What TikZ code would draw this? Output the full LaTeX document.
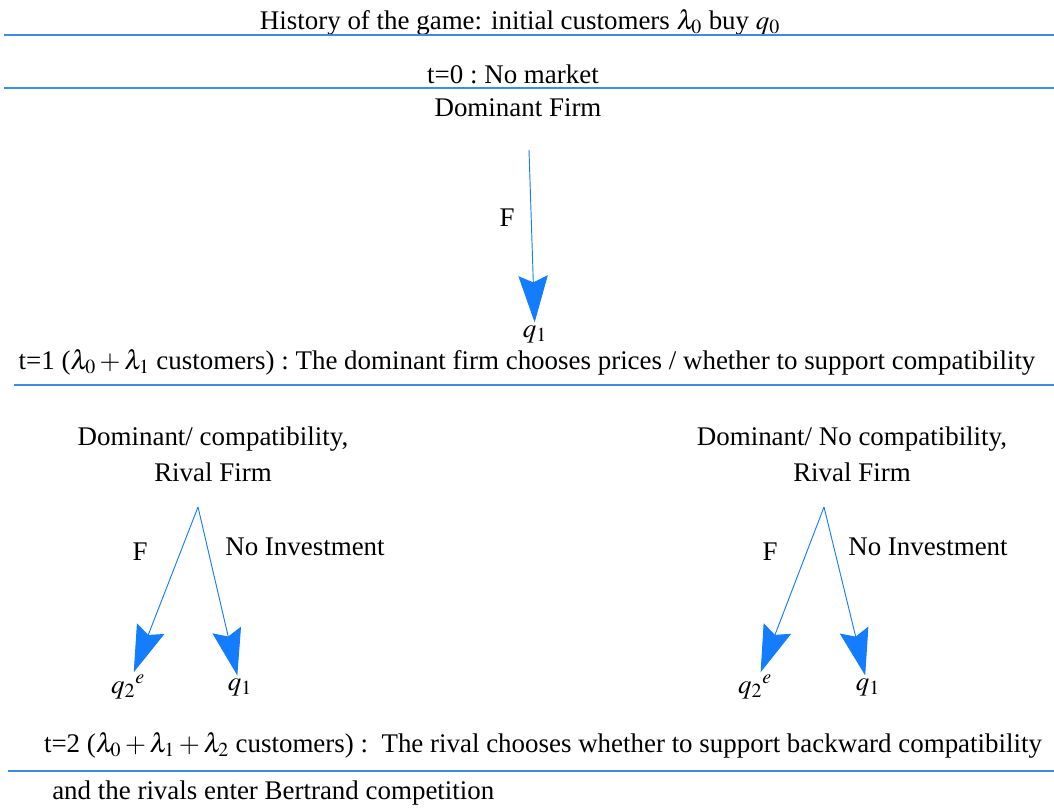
\documentclass[tikz,border=0pt]{standalone}
\usepackage{mathptmx}
\usepackage{fontspec}
\setmainfont{Liberation Serif}
\usetikzlibrary{arrows.meta}
\definecolor{ruleblue}{RGB}{60,140,230}
\definecolor{arrowblue}{RGB}{20,125,255}

\begin{document}
\begin{tikzpicture}[x=0.75pt, y=-0.75pt,
    every node/.style={
        font=\fontsize{20.2}{27}\selectfont,
        inner sep=0pt},
    rule/.style={draw=ruleblue, line width=1pt},
    move/.style={draw=arrowblue, line width=0.7pt, shorten >=2pt,
        -{Stealth[length=35pt, width=22pt, inset=5pt]}}]

    \useasboundingbox (0,0) rectangle (1054,810);

    % history and t=0
    \node (hist) at (520,22) {History of the game: initial customers $\lambda_0$ buy $q_0$};
    \draw[rule] (4,35) -- (1054,35);
    \node (t0) at (513,74) {t=0 :\ No market};
    \draw[rule] (4,88) -- (1054,88);

    % t=1: dominant firm
    \node (dom) at (518,108) {Dominant Firm};
    \coordinate (domtop) at (529,150);
    \node (Fdom) at (507,218) {F};
    \node (q1dom) at (535,334) {$q_1$};
    \draw[move] (domtop) -- (q1dom);

    \node (t1) at (527,362) {t=1 ($\lambda_0+\lambda_1$ customers) :\ The dominant firm chooses prices /\ whether to support compatibility};
    \draw[rule] (14,385) -- (1054,385);

    % t=2: rival, compatibility
    \node[align=center] (rivA) at (213,454) {Dominant/ compatibility,\\Rival Firm};
    \coordinate (rootA) at (198,507);
    \node (FA) at (140,552) {F};
    \node (noA) at (305,547) {No Investment};
    \node (qeA) at (128,687) {${q_2}^e$};
    \node (q1A) at (240,687) {$q_1$};
    \draw[move] (rootA) -- (qeA);
    \draw[move] (rootA) -- (q1A);

    % t=2: rival, no compatibility
    \node[align=center] (rivB) at (852,454) {Dominant/ No compatibility,\\Rival Firm};
    \coordinate (rootB) at (824,507);
    \node (FB) at (770,552) {F};
    \node (noB) at (928,547) {No Investment};
    \node (qeB) at (755,687) {${q_2}^e$};
    \node (q1B) at (868,687) {$q_1$};
    \draw[move] (rootB) -- (qeB);
    \draw[move] (rootB) -- (q1B);

    \node (t2) at (543,745) {t=2 ($\lambda_0+\lambda_1+\lambda_2$ customers) :\ \ The rival chooses whether to support backward compatibility};
    \draw[rule] (8,771) -- (1054,771);
    \node[anchor=west] (bert) at (52,793) {and the rivals enter Bertrand competition};
\end{tikzpicture}
\end{document}
